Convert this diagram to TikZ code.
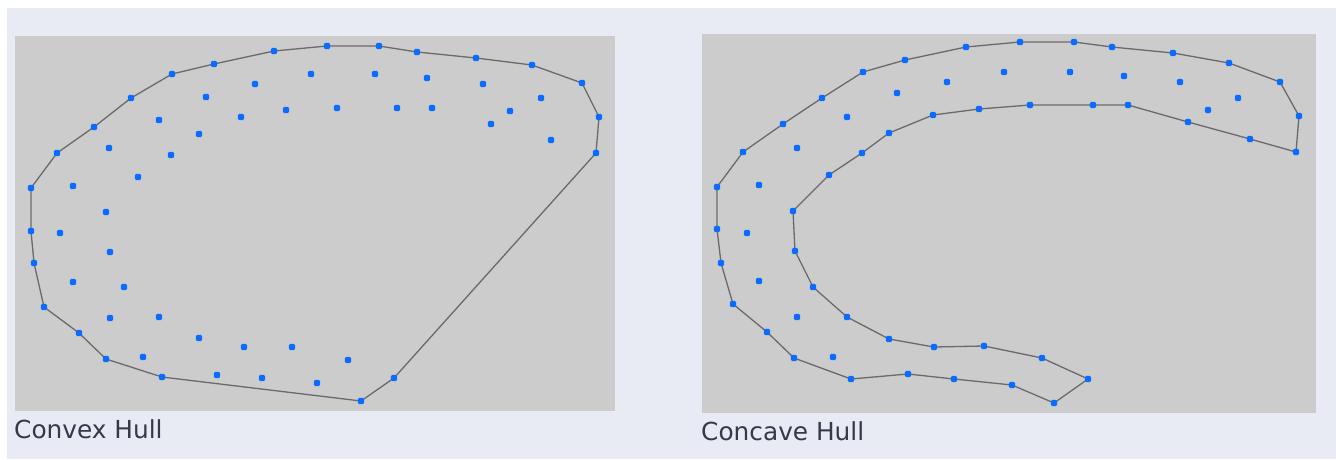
\documentclass[tikz,border=0pt]{standalone}
\usepackage{fontspec}
\setmainfont{DejaVu Sans}
\definecolor{bgc}{HTML}{E8EBF3}
\definecolor{panelc}{HTML}{CCCCCC}
\definecolor{ptc}{HTML}{0A6CFF}
\definecolor{hullc}{HTML}{6A6A6A}
\definecolor{txtc}{HTML}{38384A}
\tikzset{
  pt/.style={rectangle,rounded corners=1.6pt,fill=ptc,inner sep=0pt,minimum size=6.4pt},
  hull/.style={draw=hullc,line width=1.3pt,line join=round},
  panel/.style={fill=panelc},
  lbl/.style={anchor=base west,inner sep=0pt,text=txtc,font=\fontsize{24.8}{29}\selectfont}
}
\begin{document}
\begin{tikzpicture}[x=1pt,y=-1pt]
\useasboundingbox (0,0) rectangle (1336,459);
\fill[white] (0,0) rectangle (1336,459);
\fill[bgc] (7,8) rectangle (1336,459);
\fill[panel] (15,36) rectangle (615,411);
\fill[panel] (702,34) rectangle (1316,413);
% convex hull vertices
\foreach \n/\x/\y in {A1/31/188,A2/57/153,A3/94/127,A4/131/98,A5/172/74,A6/214/64,A7/274/51,A8/327/46,A9/379/46,A10/417/52,A11/476/58,A12/532/65,A13/582/83,A14/599/117,A15/596/153,A16/394/378,A17/361/401,A18/162/377,A19/106/359,A20/79/333,A21/44/307,A22/34/263,A23/31/231}
  \coordinate (\n) at (\x,\y);
\draw[hull] (A1)--(A2)--(A3)--(A4)--(A5)--(A6)--(A7)--(A8)--(A9)--(A10)--(A11)--(A12)--(A13)--(A14)--(A15)--(A16)--(A17)--(A18)--(A19)--(A20)--(A21)--(A22)--(A23)--cycle;
\foreach \n in {A1,A2,A3,A4,A5,A6,A7,A8,A9,A10,A11,A12,A13,A14,A15,A16,A17,A18,A19,A20,A21,A22,A23}
  \node[pt] (p\n) at (\n) {};
% convex interior points
\foreach \x/\y [count=\i] in {73/186,106/212,60/233,109/148,138/177,159/120,171/155,199/134,206/97,241/117,255/84,286/110,311/74,337/108,375/74,397/108,427/78,432/108,483/84,510/111,491/124,541/98,551/140,110/252,73/282,124/287,110/318,159/317,199/338,143/357,244/347,292/347,217/375,262/378,317/383,348/360}
  \node[pt] (P\i) at (\x,\y) {};
% concave hull vertices
\foreach \n/\x/\y in {B1/717/187,B2/743/152,B3/783/124,B4/822/98,B5/863/72,B6/905/60,B7/966/47,B8/1020/42,B9/1074/42,B10/1112/47,B11/1173/53,B12/1229/63,B13/1280/82,B14/1299/116,B15/1296/152,B16/1250/139,B17/1188/122,B18/1128/105,B19/1093/105,B20/1030/105,B21/979/109,B22/933/115,B23/889/133,B24/862/153,B25/829/175,B26/793/211,B27/795/251,B28/813/287,B29/847/317,B30/889/339,B31/934/347,B32/984/346,B33/1042/358,B34/1088/379,B35/1054/403,B36/1012/385,B37/954/379,B38/908/374,B39/851/379,B40/794/358,B41/767/332,B42/733/304,B43/721/263,B44/717/229}
  \coordinate (\n) at (\x,\y);
\draw[hull] (B1)--(B2)--(B3)--(B4)--(B5)--(B6)--(B7)--(B8)--(B9)--(B10)--(B11)--(B12)--(B13)--(B14)--(B15)--(B16)--(B17)--(B18)--(B19)--(B20)--(B21)--(B22)--(B23)--(B24)--(B25)--(B26)--(B27)--(B28)--(B29)--(B30)--(B31)--(B32)--(B33)--(B34)--(B35)--(B36)--(B37)--(B38)--(B39)--(B40)--(B41)--(B42)--(B43)--(B44)--cycle;
\foreach \n in {B1,B2,B3,B4,B5,B6,B7,B8,B9,B10,B11,B12,B13,B14,B15,B16,B17,B18,B19,B20,B21,B22,B23,B24,B25,B26,B27,B28,B29,B30,B31,B32,B33,B34,B35,B36,B37,B38,B39,B40,B41,B42,B43,B44}
  \node[pt] (p\n) at (\n) {};
% concave interior points
\foreach \x/\y [count=\i] in {759/185,797/148,847/117,897/93,947/82,1004/72,1070/72,1124/76,1180/82,1238/98,1208/110,747/233,759/281,797/317,833/357}
  \node[pt] (Q\i) at (\x,\y) {};
% labels
\node[lbl] (lconvex) at (14,438) {Convex Hull};
\node[lbl] (lconcave) at (701,440) {Concave Hull};
\end{tikzpicture}
\end{document}
